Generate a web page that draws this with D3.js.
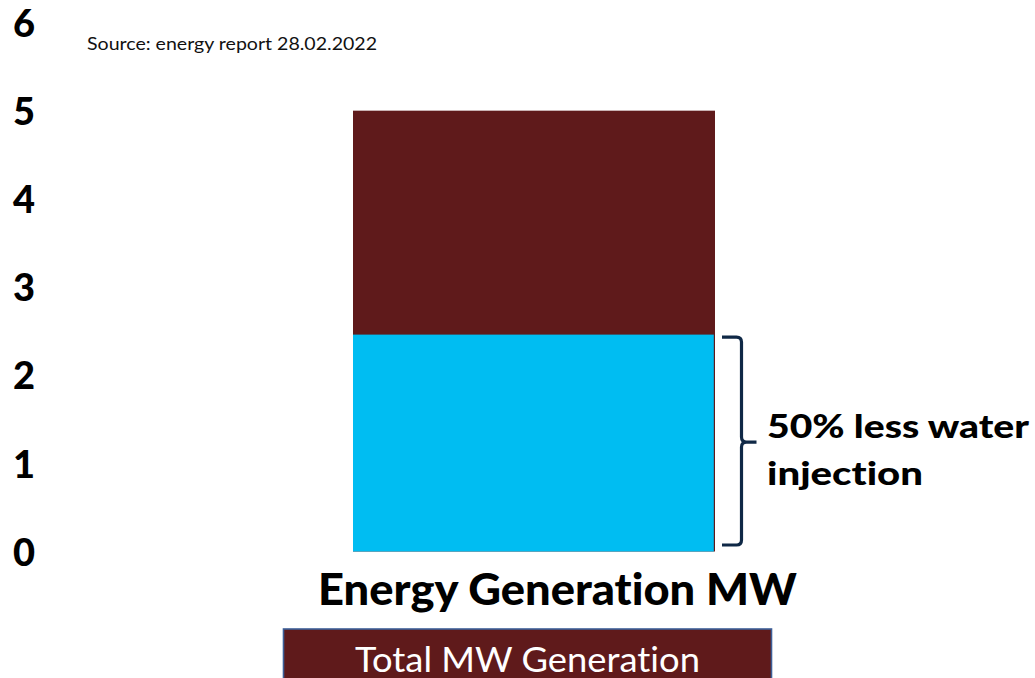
<!DOCTYPE html>
<html>
<head>
<meta charset="utf-8">
<script src="https://cdn.jsdelivr.net/npm/d3@7"></script>
<style>
  html, body { margin: 0; padding: 0; background: #ffffff; }
  svg { display: block; }
  text { font-family: "Lato", "Open Sans", sans-serif; font-variant-ligatures: none; }
</style>
</head>
<body>
<svg id="chart" width="1035" height="678"></svg>
<script>
// Energy generation (MW): total output and the share tied to water injection
const categories = ["Energy Generation MW"];
const totalMW = [5];
const waterInjectionMW = [2.46];
const yTicks = [0, 1, 2, 3, 4, 5, 6];
const legendLabel = "Total MW Generation";
const sourceNote = "Source: energy report 28.02.2022";
const bracketNote = ["50% less water", "injection"];

const colTotal = "#5f1a1b";
const colWater = "#00bdf2";
const colBracket = "#0f2846";

const svg = d3.select("#chart");

const y = d3.scaleLinear().domain([0, 6]).range([551.5, 22.5]);
const x = d3.scaleBand().domain(categories).range([353, 715]).padding(0);

// Y axis: bold numbers only, no line or ticks
const yAxis = d3.axisLeft(y).tickValues(yTicks).tickFormat(d3.format("d")).tickSize(0).tickPadding(0);
const gy = svg.append("g").attr("transform", "translate(35,0)").call(yAxis);
gy.select(".domain").remove();
gy.selectAll("text")
  .attr("x", -11)
  .attr("dy", "0.36em")
  .attr("text-anchor", "middle")
  .style("font-family", "Lato, 'Open Sans', sans-serif")
  .style("font-weight", 900)
  .style("font-size", "38px")
  .attr("fill", "#000");

// Source note
svg.append("text")
  .attr("x", 87).attr("y", 50)
  .attr("font-size", 17)
  .attr("fill", "#111")
  .attr("textLength", 290)
  .attr("lengthAdjust", "spacingAndGlyphs")
  .text(sourceNote);

// Total bar (full height) and water injection segment in front of it
svg.selectAll("rect.total")
  .data(categories)
  .join("rect")
  .attr("class", "total")
  .attr("x", d => x(d))
  .attr("width", x.bandwidth())
  .attr("y", (d, i) => y(totalMW[i]))
  .attr("height", (d, i) => y(0) - y(totalMW[i]))
  .attr("fill", colTotal);

svg.selectAll("rect.water")
  .data(categories)
  .join("rect")
  .attr("class", "water")
  .attr("x", d => x(d))
  .attr("width", x.bandwidth() - 1.2)
  .attr("y", (d, i) => y(waterInjectionMW[i]))
  .attr("height", (d, i) => y(0) - y(waterInjectionMW[i]))
  .attr("fill", colWater);

// Curly bracket beside the water segment
const bx0 = x(categories[0]) + x.bandwidth() + 7;
const bx1 = bx0 + 19.5;
const bTop = y(waterInjectionMW[0]) + 2.5;
const bBot = y(0) - 6.5;
const bMid = (bTop + bBot) / 2 + 1;
const r = 5;
const bracketPath = d3.path();
bracketPath.moveTo(bx0, bTop);
bracketPath.lineTo(bx1 - r, bTop);
bracketPath.quadraticCurveTo(bx1, bTop, bx1, bTop + r);
bracketPath.lineTo(bx1, bMid - r);
bracketPath.quadraticCurveTo(bx1, bMid, bx1 + r, bMid);
bracketPath.lineTo(bx1 + 15, bMid);
bracketPath.moveTo(bx1 + r, bMid);
bracketPath.quadraticCurveTo(bx1, bMid, bx1, bMid + r);
bracketPath.lineTo(bx1, bBot - r);
bracketPath.quadraticCurveTo(bx1, bBot, bx1 - r, bBot);
bracketPath.lineTo(bx0, bBot);
svg.append("path")
  .attr("d", bracketPath.toString())
  .attr("fill", "none")
  .attr("stroke", colBracket)
  .attr("stroke-width", 3.2);

// Bracket annotation
const note = svg.append("g");
note.append("text")
  .attr("x", 767).attr("y", 438)
  .attr("font-size", 33).attr("font-weight", 900).attr("fill", "#000")
  .attr("textLength", 262).attr("lengthAdjust", "spacingAndGlyphs")
  .text(bracketNote[0]);
note.append("text")
  .attr("x", 767).attr("y", 485)
  .attr("font-size", 33).attr("font-weight", 900).attr("fill", "#000")
  .attr("textLength", 156).attr("lengthAdjust", "spacingAndGlyphs")
  .text(bracketNote[1]);

// Category label under the bar
svg.append("text")
  .attr("x", 318)
  .attr("y", 605)
  .attr("font-size", 43).attr("font-weight", 900).attr("fill", "#000")
  .attr("textLength", 479).attr("lengthAdjust", "spacingAndGlyphs")
  .text(categories[0]);

// Legend box
const legend = svg.append("g");
legend.append("rect")
  .attr("x", 283.5).attr("y", 629)
  .attr("width", 488).attr("height", 60)
  .attr("fill", colTotal)
  .attr("stroke", "#3d5f98")
  .attr("stroke-width", 1.6);
legend.append("text")
  .attr("x", 355).attr("y", 672)
  .attr("font-size", 35).attr("fill", "#ffffff")
  .attr("textLength", 345).attr("lengthAdjust", "spacingAndGlyphs")
  .text(legendLabel);
</script>
</body>
</html>
